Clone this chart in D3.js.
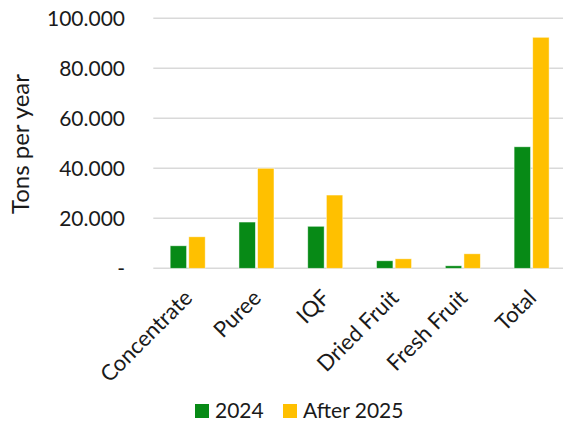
<!DOCTYPE html>
<html>
<head>
<meta charset="utf-8">
<script src="https://cdn.jsdelivr.net/npm/d3@7"></script>
<style>
  html, body { margin: 0; padding: 0; background: #fff; }
  svg { display: block; }
  text { font-family: Lato, "Open Sans", sans-serif; fill: #1a1a1a; }
</style>
</head>
<body>
<div id="chart"></div>
<script>
// Production volumes by product type, tons per year
const categories = ["Concentrate", "Puree", "IQF", "Dried Fruit", "Fresh Fruit", "Total"];
const series = ["2024", "After 2025"];
const values2024 = [9000, 18500, 16800, 3000, 1000, 48600];
const valuesAfter2025 = [12600, 40000, 29300, 3800, 5800, 92400];
const yTicks = [0, 20000, 40000, 60000, 80000, 100000];
const colors = ["#078A16", "#FFC000"];

const W = 563, H = 421;
const svg = d3.select("#chart").append("svg").attr("width", W).attr("height", H);

const plot = { left: 153.3, right: 566, top: 18.3, bottom: 268.3 };

const y = d3.scaleLinear().domain([0, 100000]).range([plot.bottom, plot.top]);
const x0 = d3.scaleBand().domain(categories).range([plot.left, plot.right]).paddingInner(0).paddingOuter(0);
const groupW = 35;
const x1 = d3.scaleBand().domain(series).range([0, groupW]).paddingInner(0.12);

const fmt = v => v === 0 ? "-" : d3.format(",")(v).replace(/,/g, ".");

// gridlines
svg.append("g")
  .selectAll("line")
  .data(yTicks)
  .join("line")
  .attr("x1", plot.left)
  .attr("x2", W)
  .attr("y1", d => y(d))
  .attr("y2", d => y(d))
  .attr("stroke", "#d9d9d9")
  .attr("stroke-width", 1.5);

// y axis labels
const yAxis = d3.axisLeft(y).tickValues(yTicks).tickFormat(fmt).tickSize(0).tickPadding(0);
const gy = svg.append("g").attr("transform", `translate(125,0)`).call(yAxis);
gy.select(".domain").remove();
gy.selectAll("text")
  .attr("font-size", 21)
  .attr("font-family", "Lato, sans-serif")
  .attr("fill", "#1a1a1a")
  .attr("dy", "0.35em");

// y axis title
svg.append("text")
  .attr("transform", `translate(29,144) rotate(-90)`)
  .attr("text-anchor", "middle")
  .attr("font-size", 24)
  .text("Tons per year");

// bars
const rows = categories.map((c, i) => ({ cat: c, vals: [values2024[i], valuesAfter2025[i]] }));
const groups = svg.append("g")
  .selectAll("g")
  .data(rows)
  .join("g")
  .attr("transform", d => `translate(${x0(d.cat) + (x0.bandwidth() - groupW) / 2},0)`);

groups.selectAll("rect")
  .data(d => d.vals.map((v, j) => ({ key: series[j], v, j })))
  .join("rect")
  .attr("x", d => x1(d.key))
  .attr("width", x1.bandwidth())
  .attr("y", d => y(d.v))
  .attr("height", d => y(0) - y(d.v))
  .attr("fill", d => colors[d.j])
  .attr("stroke", "#ffffff")
  .attr("stroke-opacity", 0.6)
  .attr("stroke-width", 0.75);

// x axis category labels
const xAxis = d3.axisBottom(x0).tickSize(0).tickPadding(0);
const gx = svg.append("g").attr("transform", `translate(0,${plot.bottom})`).call(xAxis);
gx.select(".domain").remove();
gx.selectAll("text")
  .attr("font-size", 22)
  .attr("font-family", "Lato, sans-serif")
  .attr("fill", "#1a1a1a")
  .attr("text-anchor", "end")
  .attr("dy", 0)
  .attr("y", 0)
  .attr("transform", "translate(6,31) rotate(-45)");

// legend
const legend = svg.append("g").attr("transform", "translate(195,404)");
const lg = legend.selectAll("g")
  .data(series)
  .join("g")
  .attr("transform", (d, i) => `translate(${i * 88},0)`);
lg.append("rect").attr("width", 14).attr("height", 14).attr("fill", (d, i) => colors[i]);
lg.append("text")
  .attr("x", 20)
  .attr("y", 14)
  .attr("font-size", 21)
  .text(d => d);
</script>
</body>
</html>
